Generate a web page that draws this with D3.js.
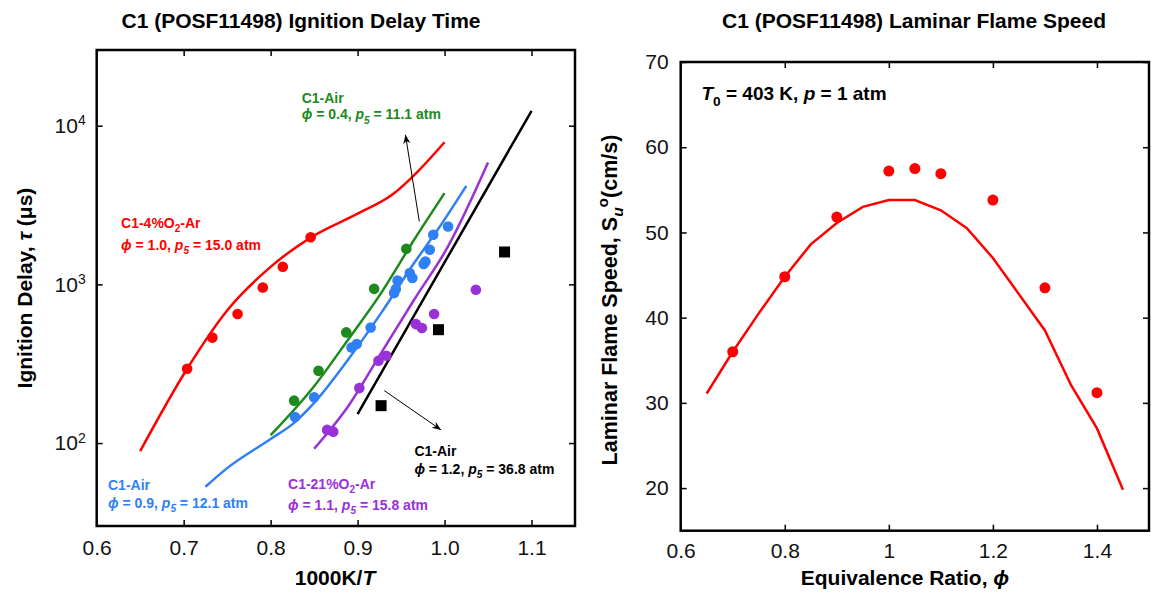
<!DOCTYPE html>
<html>
<head>
<meta charset="utf-8">
<script src="https://cdn.jsdelivr.net/npm/d3@7"></script>
<style>
  body { margin: 0; background: #fff; }
  text { font-family: Arial, "Liberation Sans", Helvetica, sans-serif; }
</style>
</head>
<body>
<svg id="chart"></svg>
<script>
const width = 1151, height = 597;

// ---- Ignition delay (x = 1000K/T, y = tau in microseconds)
const redPoints = [[0.704, 294], [0.733, 462], [0.762, 650], [0.791, 955], [0.814, 1290], [0.846, 1980]];
const redModel = [[0.65, 89], [0.704, 294], [0.75, 685], [0.8, 1290], [0.846, 1972], [0.9, 2790],
  [0.94, 3680], [0.97, 5200], [1.0, 7870]];

const greenPoints = [[0.827, 185], [0.855, 285], [0.887, 498], [0.919, 937], [0.956, 1675]];
const greenModel = [[0.8, 112], [0.85, 228], [0.889, 448], [0.927, 881], [0.965, 1910], [1.0, 3760]];

const bluePoints = [[0.828, 146], [0.850, 194], [0.893, 400], [0.899, 421], [0.915, 535], [0.942, 881],
  [0.944, 934], [0.946, 1058], [0.960, 1178], [0.963, 1096], [0.976, 1343], [0.978, 1393],
  [0.983, 1651], [0.987, 2055], [1.004, 2317]];
const blueModel = [[0.725, 53], [0.75, 69.5], [0.8, 106], [0.827, 134], [0.85, 179],
  [0.889, 335], [0.927, 659], [0.965, 1362], [0.992, 2207], [1.025, 4180]];

const purplePoints = [[0.865, 121], [0.872, 118], [0.902, 222], [0.924, 330], [0.933, 355],
  [0.967, 562], [0.974, 531], [0.988, 650], [1.036, 924]];
const purpleModel = [[0.85, 92], [0.889, 170], [0.927, 369], [0.965, 800], [1.004, 1734], [1.05, 5860]];

const blackModel = [[0.9, 152], [1.0, 1375], [1.1, 12400]];
const blackSquares = [[0.927, 172], [0.993, 518], [1.069, 1600]];

const idtXTicks = [0.6, 0.7, 0.8, 0.9, 1.0, 1.1];
const idtYTicks = [100, 1000, 10000];

// arrows: [x1, y1, x2, y2] in data units, head at the second point
const idtArrows = [[0.971, 2490, 0.955, 8770], [0.9307, 214, 0.996, 121]];

// ---- Laminar flame speed
const flamePhi = [0.7, 0.8, 0.9, 1.0, 1.05, 1.1, 1.2, 1.3, 1.4];
const flameSpeed = [36.0, 44.8, 51.8, 57.2, 57.5, 56.9, 53.8, 43.5, 31.2];
const modelPhi = [0.65, 0.7, 0.75, 0.8, 0.85, 0.9, 0.95, 1.0, 1.05, 1.1, 1.15, 1.2, 1.3, 1.35, 1.4, 1.45];
const modelSpeed = [31.1, 36.0, 40.5, 44.8, 48.6, 51.1, 53.0, 53.8, 53.8, 52.6, 50.5, 47.0, 38.5, 32.1, 27.0, 19.8];
const lfsXTicks = [0.6, 0.8, 1.0, 1.2, 1.4];
const lfsYTicks = [20, 30, 40, 50, 60, 70];

const colors = { red: "#ff0000", green: "#1c8a1c", blue: "#2f7ff5", purple: "#9a30d8", black: "#000" };
const PHI = "\u03D5";

const svg = d3.select("#chart").attr("width", width).attr("height", height);

svg.append("defs").append("marker")
    .attr("id", "head")
    .attr("viewBox", "0 0 10 10")
    .attr("refX", 10).attr("refY", 5)
    .attr("markerWidth", 9).attr("markerHeight", 9)
    .attr("markerUnits", "userSpaceOnUse")
    .attr("orient", "auto")
    .append("path").attr("d", "M0,1 L10,5 L0,9 L3,5 Z").attr("fill", "#000");

// rich text: parts are strings or {t, i, sub, sup}
function rich(g, x, y, fs, parts, extra) {
  const t = g.append("text").attr("x", x).attr("y", y).attr("font-size", fs);
  if (extra) extra(t);
  let shift = 0;
  parts.forEach(p => {
    const s = typeof p === "string" ? { t: p } : p;
    const target = s.sub ? 0.3 * fs : s.sup ? -0.42 * fs : 0;
    const ts = t.append("tspan").text(s.t).attr("dy", target - shift);
    shift = target;
    if (s.sub || s.sup) ts.attr("font-size", fs * 0.72);
    if (s.i) ts.attr("font-style", "italic");
  });
  return t;
}

function frameAxes(g, x, y, xTicks, yTicks, xFmt, yPad, xPad) {
  const [x0, x1] = x.range(), [y0, y1] = y.range();
  g.append("g").attr("class", "x-bottom").attr("transform", `translate(0,${y0})`)
    .call(d3.axisBottom(x).tickValues(xTicks).tickSize(-6).tickSizeOuter(0).tickPadding(xPad).tickFormat(xFmt))
    .call(a => a.select(".domain").remove());
  g.append("g").attr("transform", `translate(0,${y1})`)
    .call(d3.axisTop(x).tickValues(xTicks).tickSize(-6).tickSizeOuter(0).tickFormat(""))
    .call(a => a.select(".domain").remove());
  g.append("g").attr("class", "y-left").attr("transform", `translate(${x0},0)`)
    .call(d3.axisLeft(y).tickValues(yTicks).tickSize(-6).tickSizeOuter(0).tickPadding(yPad))
    .call(a => a.select(".domain").remove());
  g.append("g").attr("transform", `translate(${x1},0)`)
    .call(d3.axisRight(y).tickValues(yTicks).tickSize(-6).tickSizeOuter(0).tickFormat(""))
    .call(a => a.select(".domain").remove());
  g.selectAll(".tick line").attr("stroke", "#000").attr("stroke-width", 1.5);
  g.selectAll(".tick text").attr("font-size", 21).attr("fill", "#111")
    .attr("font-family", 'Arial, "Liberation Sans", Helvetica, sans-serif');
  g.append("rect").attr("x", x0).attr("y", y1).attr("width", x1 - x0).attr("height", y0 - y1)
    .attr("fill", "none").attr("stroke", "#000").attr("stroke-width", 2.5);
}

// ================= Left: ignition delay =================
const gL = svg.append("g");
const xL = d3.scaleLinear().domain([0.6, 1.15]).range([96.7, 575]);
const yL = d3.scaleLog().domain([30, 30000]).range([526, 50]);

frameAxes(gL, xL, yL, idtXTicks, idtYTicks, d => d.toFixed(1), 11, 14);

// superscript log labels
gL.select(".y-left").selectAll(".tick text").each(function(d) {
  const t = d3.select(this).text(null);
  t.append("tspan").text("10");
  t.append("tspan").text(Math.round(Math.log10(d))).attr("font-size", 14).attr("dy", "-0.55em");
});

const curve = d3.line().x(d => xL(d[0])).y(d => yL(d[1])).curve(d3.curveMonotoneX);
const plotL = gL.append("g");

[[redModel, colors.red], [greenModel, colors.green], [blueModel, colors.blue],
 [purpleModel, colors.purple], [blackModel, colors.black]].forEach(([data, c]) => {
  plotL.append("path").datum(data).attr("d", curve)
    .attr("fill", "none").attr("stroke", c).attr("stroke-width", 2.5);
});

[[redPoints, colors.red], [greenPoints, colors.green], [bluePoints, colors.blue],
 [purplePoints, colors.purple]].forEach(([data, c]) => {
  plotL.append("g").selectAll("circle").data(data).join("circle")
    .attr("cx", d => xL(d[0])).attr("cy", d => yL(d[1])).attr("r", 5.3).attr("fill", c);
});

plotL.append("g").selectAll("rect").data(blackSquares).join("rect")
  .attr("x", d => xL(d[0]) - 5.5).attr("y", d => yL(d[1]) - 5.5)
  .attr("width", 11).attr("height", 11).attr("fill", "#000");

plotL.append("g").selectAll("line").data(idtArrows).join("line")
  .attr("x1", d => xL(d[0])).attr("y1", d => yL(d[1]))
  .attr("x2", d => xL(d[2])).attr("y2", d => yL(d[3]))
  .attr("stroke", "#000").attr("stroke-width", 1).attr("marker-end", "url(#head)");

// series annotations
function seriesLabel(x, y, gap, color, line1, line2) {
  const fs = 14;
  rich(gL, xL(x), yL(y), fs, line1, t => t.attr("fill", color).attr("font-weight", "bold"));
  rich(gL, xL(x), yL(y) + gap, fs, line2, t => t.attr("fill", color).attr("font-weight", "bold"));
}
const phiLine = (phi, p) => [{ t: PHI, i: true }, ` = ${phi},  `, { t: "p", i: true }, { t: "5", i: true, sub: true }, ` = ${p} atm`];

seriesLabel(0.8357, 13930, 16.5, colors.green, ["C1-Air"], phiLine("0.4", "11.1"));
seriesLabel(0.628, 2275, 22, colors.red, ["C1-4%O", { t: "2", sub: true }, "-Ar"], phiLine("1.0", "15.0"));
seriesLabel(0.613, 50.8, 18, colors.blue, ["C1-Air"], phiLine("0.9", "12.1"));
seriesLabel(0.82, 51.5, 21.5, colors.purple, ["C1-21%O", { t: "2", sub: true }, "-Ar"], phiLine("1.1", "15.8"));
seriesLabel(0.9653, 82.3, 17.5, colors.black, ["C1-Air"], phiLine("1.2", "36.8"));

gL.append("text").attr("x", 301).attr("y", 28).attr("text-anchor", "middle")
  .attr("font-size", 21).attr("font-weight", "bold").text("C1 (POSF11498) Ignition Delay Time");
rich(gL, 335, 585, 21, ["1000K/", { t: "T", i: true }],
  t => t.attr("text-anchor", "middle").attr("font-weight", "bold"));
rich(gL, 0, 0, 21, ["Ignition Delay, ", { t: "τ", i: true }, " (μs)"],
  t => t.attr("text-anchor", "middle").attr("font-weight", "bold")
        .attr("transform", "translate(32,288) rotate(-90)"));

// ================= Right: laminar flame speed =================
const gR = svg.append("g");
const xR = d3.scaleLinear().domain([0.6, 1.5]).range([680.7, 1149]);
const yR = d3.scaleLinear().domain([15, 70]).range([530.7, 62]);

frameAxes(gR, xR, yR, lfsXTicks, lfsYTicks, d => d === 1 ? "1" : d.toFixed(1), 12, 12);

const lineR = d3.line().x((d, i) => xR(modelPhi[i])).y(d => yR(d));
gR.append("path").datum(modelSpeed).attr("d", lineR)
  .attr("fill", "none").attr("stroke", colors.red).attr("stroke-width", 2.5);

gR.append("g").selectAll("circle").data(flameSpeed).join("circle")
  .attr("cx", (d, i) => xR(flamePhi[i])).attr("cy", d => yR(d)).attr("r", 5.5).attr("fill", colors.red);

rich(gR, xR(0.64), yR(65.5), 19, [{ t: "T", i: true }, { t: "0", sub: true }, " = 403 K, ", { t: "p", i: true }, " = 1 atm"],
  t => t.attr("font-weight", "bold").attr("fill", "#000"));

gR.append("text").attr("x", 914).attr("y", 28).attr("text-anchor", "middle")
  .attr("font-size", 21).attr("font-weight", "bold").text("C1 (POSF11498) Laminar Flame Speed");
rich(gR, 905, 585, 21, ["Equivalence Ratio, ", { t: PHI, i: true }],
  t => t.attr("text-anchor", "middle").attr("font-weight", "bold"));
rich(gR, 0, 0, 21.5, ["Laminar Flame Speed, S", { t: "u", i: true, sub: true }, { t: "o", sup: true }, "(cm/s)"],
  t => t.attr("text-anchor", "middle").attr("font-weight", "bold")
        .attr("transform", "translate(617,300) rotate(-90)"));
</script>
</body>
</html>
